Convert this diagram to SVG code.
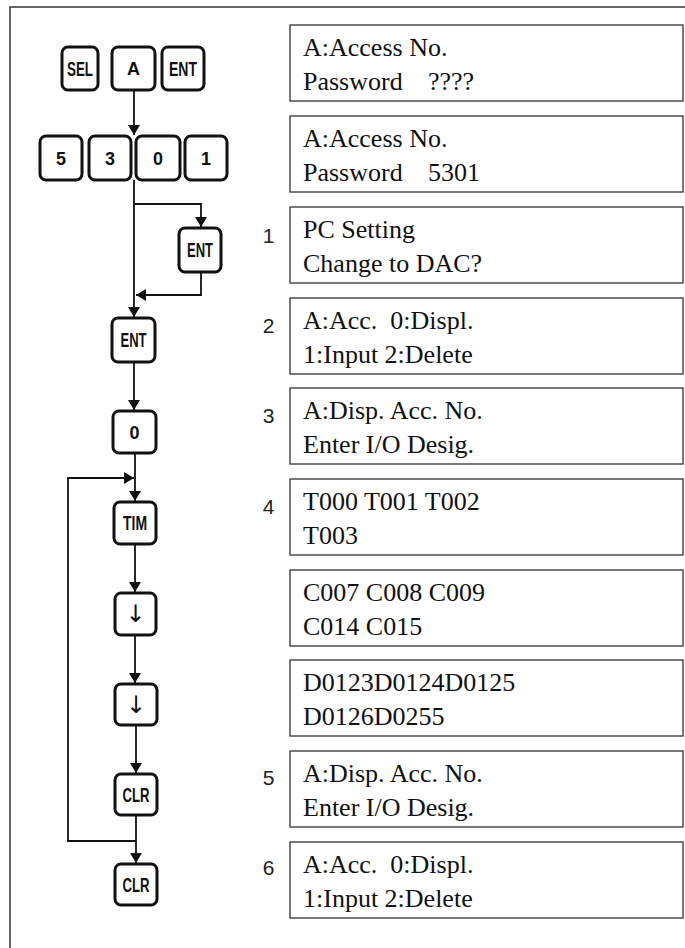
<svg xmlns="http://www.w3.org/2000/svg" width="685" height="948" viewBox="0 0 685 948">
<style>
.frame{fill:none;stroke:#333;stroke-width:1.5}
.key rect{fill:#fff;stroke:#111;stroke-width:3}
.kt{font-family:"Liberation Sans",Arial,sans-serif;font-weight:bold;font-size:20px;fill:#111;text-anchor:middle}
.kd{font-family:"Liberation Sans",Arial,sans-serif;font-weight:bold;font-size:18px;fill:#111;text-anchor:middle}
.ka{font-family:"DejaVu Sans",sans-serif;font-size:24px;fill:#111;text-anchor:middle}
.box rect{fill:#fff;stroke:#333;stroke-width:1.3}
.bt{font-family:"Liberation Serif","Times New Roman",serif;font-size:26px;fill:#111;white-space:pre}
.num{font-family:"Liberation Sans",Arial,sans-serif;font-size:21px;fill:#222;text-anchor:middle}
.conn path{fill:none;stroke:#111;stroke-width:1.8}
</style>
<defs>
<marker id="ah" viewBox="0 0 10 12" refX="10" refY="6" markerWidth="10" markerHeight="12" markerUnits="userSpaceOnUse" orient="auto">
<path d="M0,0 L10,6 L0,12 z" fill="#111"/>
</marker>
</defs>
<path class="frame" d="M10,948 V7 H685"/>

<g class="conn">
<path d="M134,90 V135" marker-end="url(#ah)"/>
<path d="M134,180 V317" marker-end="url(#ah)"/>
<path d="M134,204 H201 V227" marker-end="url(#ah)"/>
<path d="M201,272 V295 H136" marker-end="url(#ah)"/>
<path d="M134,362 V410" marker-end="url(#ah)"/>
<path d="M135,453 V501" marker-end="url(#ah)"/>
<path d="M135,544 V592" marker-end="url(#ah)"/>
<path d="M135,635 V683" marker-end="url(#ah)"/>
<path d="M136,725 V773" marker-end="url(#ah)"/>
<path d="M136,815 V863" marker-end="url(#ah)"/>
<path d="M136,841 H68 V478 H134" marker-end="url(#ah)"/>
</g>

<g id="key-sel" class="key"><rect x="62" y="47" width="36" height="43" rx="6"/><text class="kt" x="80" y="76" textLength="26" lengthAdjust="spacingAndGlyphs">SEL</text></g>
<g id="key-a" class="key"><rect x="112" y="47" width="43" height="43" rx="6"/><text class="kd" x="133.5" y="75">A</text></g>
<g id="key-ent1" class="key"><rect x="162" y="47" width="42" height="43" rx="6"/><text class="kt" x="183" y="76" textLength="28" lengthAdjust="spacingAndGlyphs">ENT</text></g>

<g id="key-5" class="key"><rect x="40" y="136" width="42" height="44" rx="6"/><text class="kd" x="61" y="165">5</text></g>
<g id="key-3" class="key"><rect x="89" y="136" width="42" height="44" rx="6"/><text class="kd" x="110" y="165">3</text></g>
<g id="key-0a" class="key"><rect x="136" y="136" width="44" height="44" rx="6"/><text class="kd" x="158" y="165">0</text></g>
<g id="key-1" class="key"><rect x="185" y="136" width="42" height="44" rx="6"/><text class="kd" x="206" y="165">1</text></g>

<g id="key-ent2" class="key"><rect x="179" y="228" width="42" height="44" rx="6"/><text class="kt" x="200" y="257" textLength="26" lengthAdjust="spacingAndGlyphs">ENT</text></g>
<g id="key-ent3" class="key"><rect x="112" y="318" width="43" height="44" rx="6"/><text class="kt" x="133.5" y="347" textLength="26" lengthAdjust="spacingAndGlyphs">ENT</text></g>
<g id="key-0b" class="key"><rect x="113" y="411" width="43" height="42" rx="6"/><text class="kd" x="134.5" y="439">0</text></g>
<g id="key-tim" class="key"><rect x="114" y="502" width="42" height="42" rx="6"/><text class="kt" x="135" y="530" textLength="24" lengthAdjust="spacingAndGlyphs">TIM</text></g>
<g id="key-down1" class="key"><rect x="115" y="593" width="41" height="42" rx="6"/><text class="ka" x="135.5" y="622">↓</text></g>
<g id="key-down2" class="key"><rect x="115" y="684" width="42" height="41" rx="6"/><text class="ka" x="136" y="713">↓</text></g>
<g id="key-clr1" class="key"><rect x="115" y="774" width="42" height="41" rx="6"/><text class="kt" x="136" y="802" textLength="27" lengthAdjust="spacingAndGlyphs">CLR</text></g>
<g id="key-clr2" class="key"><rect x="115" y="864" width="42" height="41" rx="6"/><text class="kt" x="136" y="892" textLength="27" lengthAdjust="spacingAndGlyphs">CLR</text></g>

<g id="disp1" class="box"><rect x="290" y="25" width="393" height="76"/><text class="bt" x="303" y="56">A:Access No.</text><text class="bt" x="303" y="90">Password<tspan x="428">????</tspan></text></g>
<g id="disp2" class="box"><rect x="290" y="116" width="393" height="76"/><text class="bt" x="303" y="147">A:Access No.</text><text class="bt" x="303" y="181">Password<tspan x="428">5301</tspan></text></g>
<g id="disp3" class="box"><text class="num" x="268.5" y="243">1</text><rect x="290" y="207" width="393" height="76"/><text class="bt" x="303" y="238">PC Setting</text><text class="bt" x="303" y="272">Change to DAC?</text></g>
<g id="disp4" class="box"><text class="num" x="268.5" y="333">2</text><rect x="290" y="298" width="393" height="76"/><text class="bt" x="303" y="329">A:Acc.  0:Displ.</text><text class="bt" x="303" y="363">1:Input 2:Delete</text></g>
<g id="disp5" class="box"><text class="num" x="268.5" y="423">3</text><rect x="290" y="388" width="393" height="76"/><text class="bt" x="303" y="419">A:Disp. Acc. No.</text><text class="bt" x="303" y="453">Enter I/O Desig.</text></g>
<g id="disp6" class="box"><text class="num" x="268.5" y="514">4</text><rect x="290" y="479" width="393" height="76"/><text class="bt" x="303" y="510">T000 T001 T002</text><text class="bt" x="303" y="544">T003</text></g>
<g id="disp7" class="box"><rect x="290" y="570" width="393" height="76"/><text class="bt" x="303" y="601">C007 C008 C009</text><text class="bt" x="303" y="635">C014 C015</text></g>
<g id="disp8" class="box"><rect x="290" y="660" width="393" height="76"/><text class="bt" x="303" y="691">D0123D0124D0125</text><text class="bt" x="303" y="725">D0126D0255</text></g>
<g id="disp9" class="box"><text class="num" x="268.5" y="785">5</text><rect x="290" y="751" width="393" height="76"/><text class="bt" x="303" y="782">A:Disp. Acc. No.</text><text class="bt" x="303" y="816">Enter I/O Desig.</text></g>
<g id="disp10" class="box"><text class="num" x="268.5" y="875">6</text><rect x="290" y="842" width="393" height="76"/><text class="bt" x="303" y="873">A:Acc.  0:Displ.</text><text class="bt" x="303" y="907">1:Input 2:Delete</text></g>
</svg>
